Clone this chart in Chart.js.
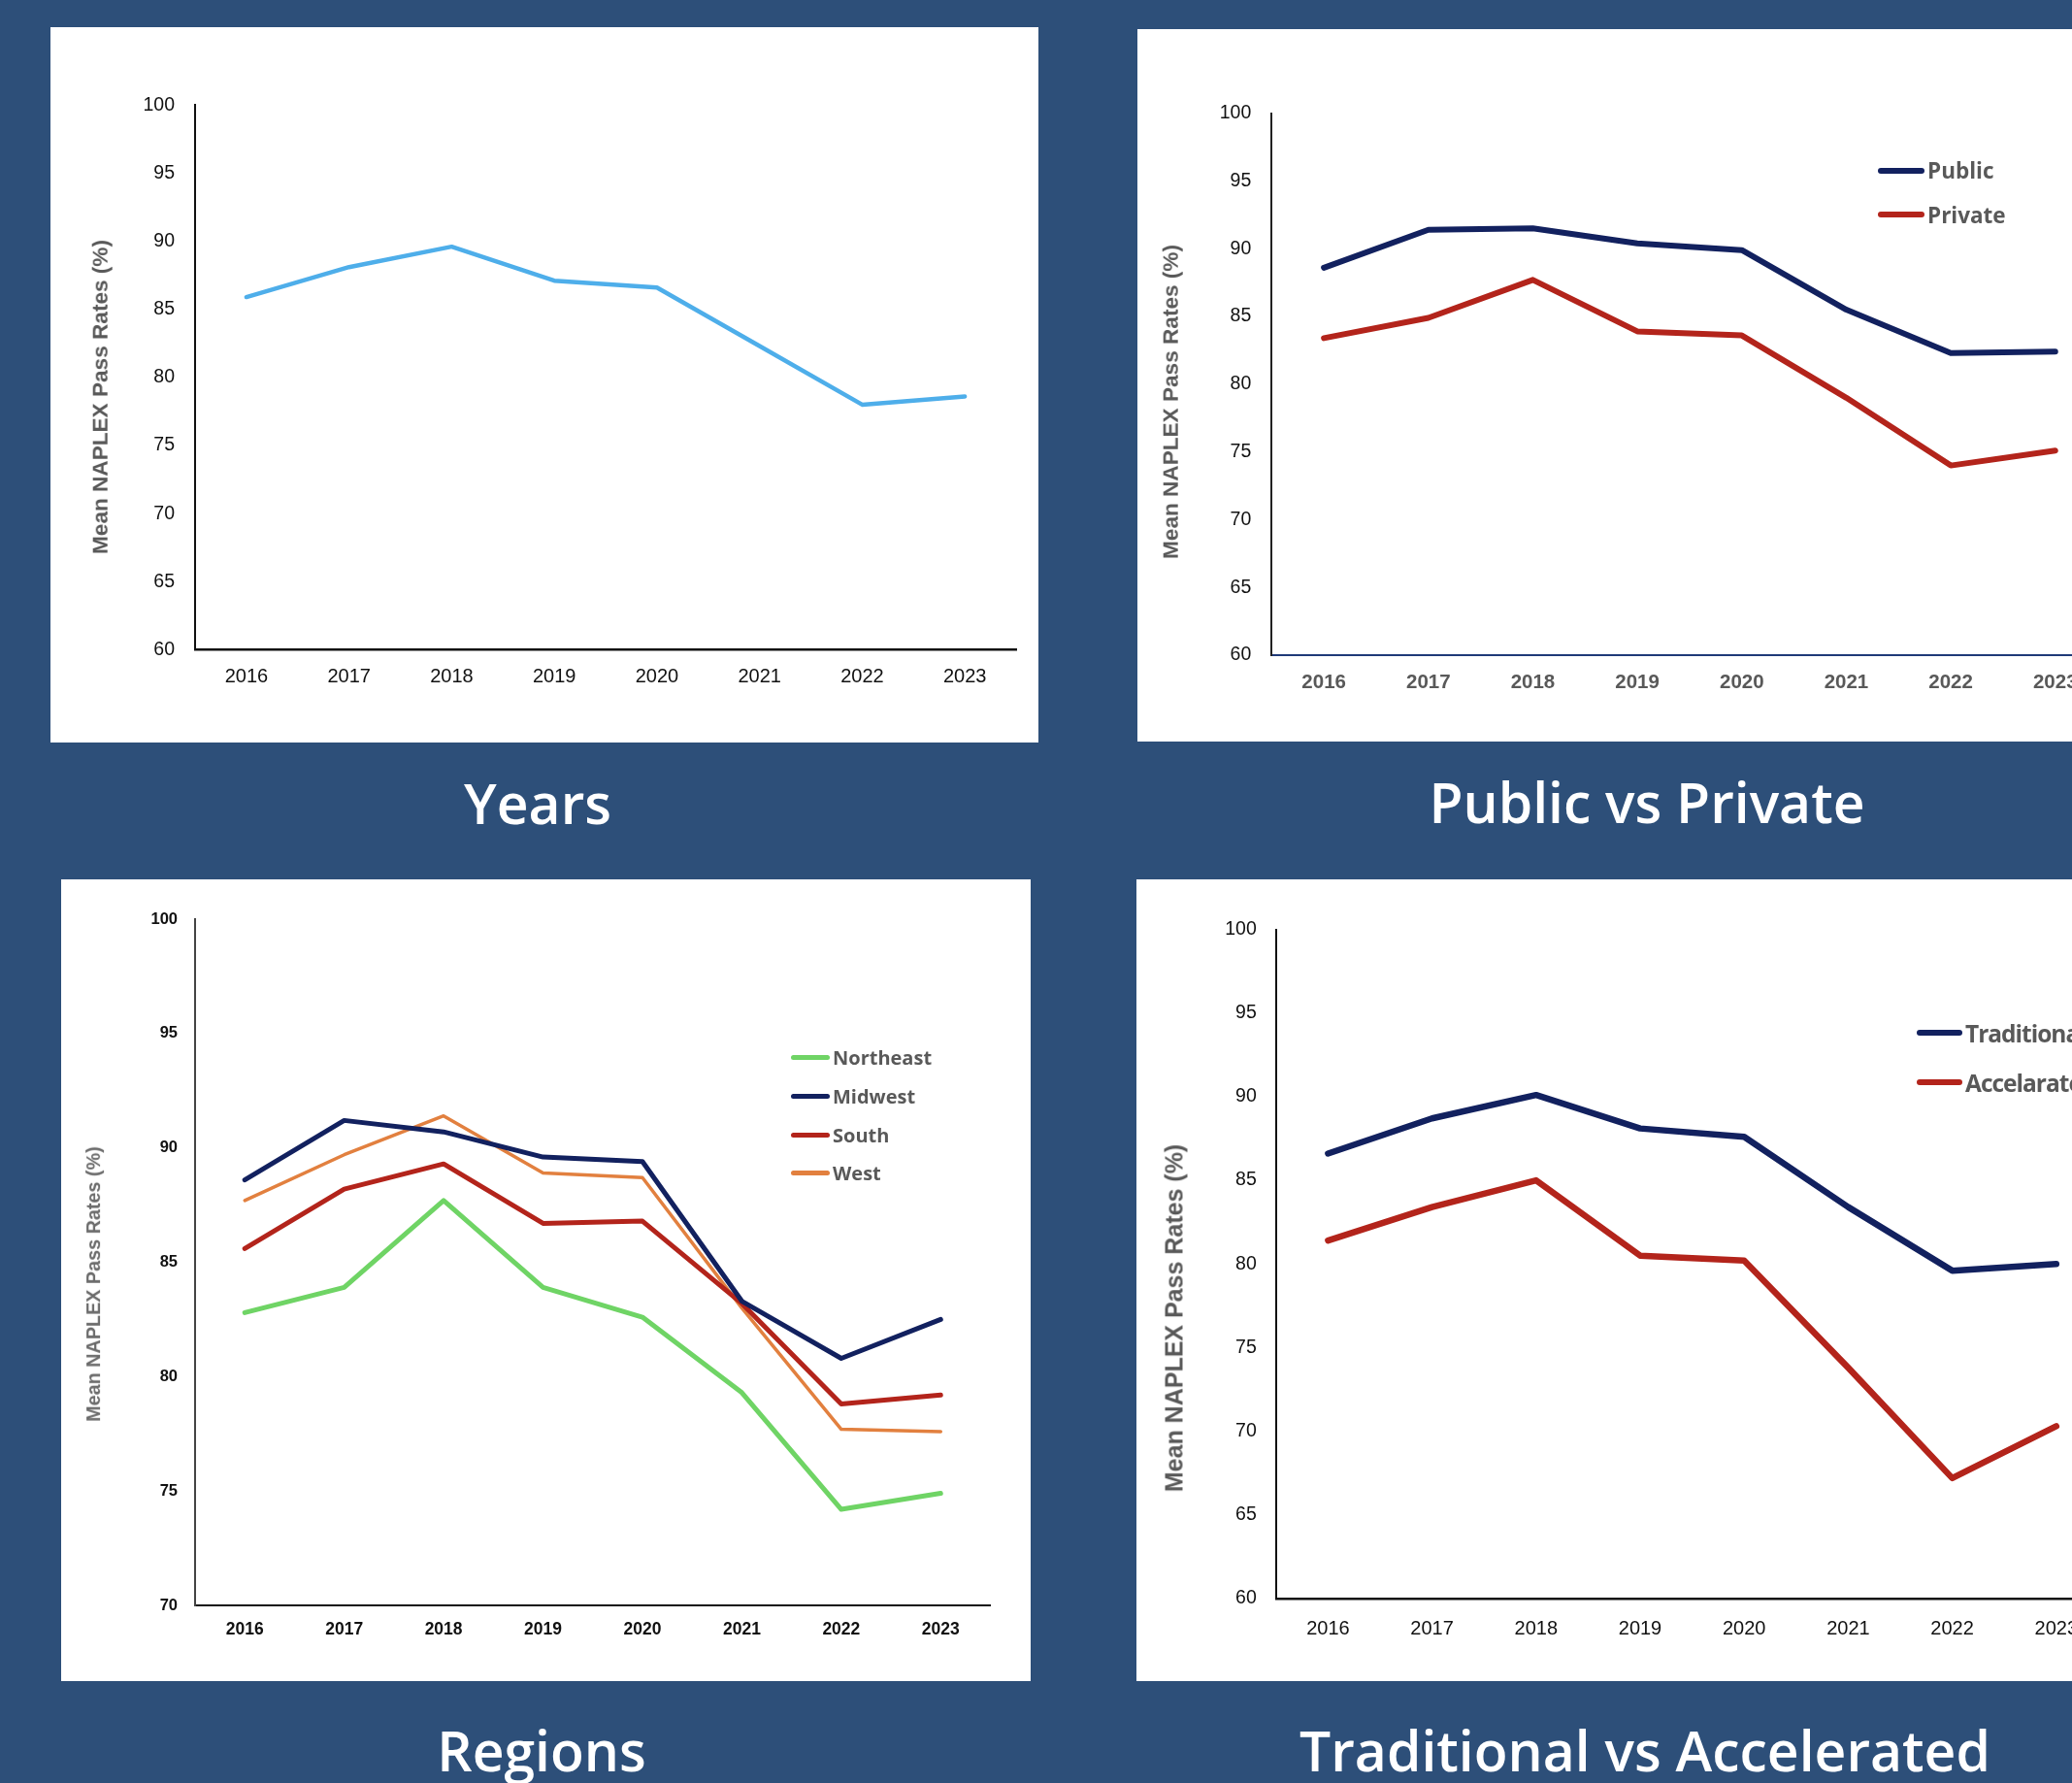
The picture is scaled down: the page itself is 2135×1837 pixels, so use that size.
<!DOCTYPE html>
<html>
<head>
<meta charset="utf-8">
<script src="https://cdn.jsdelivr.net/npm/chart.js@4.4.1/dist/chart.umd.min.js"></script>
<style>
html,body{margin:0;padding:0;}
body{width:2135px;height:1837px;overflow:hidden;background:#2d4f79;position:relative;font-family:'Liberation Sans',Arial,sans-serif;}
.panel{position:absolute;background:#fff;overflow:hidden;}
.panel canvas{position:absolute;left:0;top:0;}
.ytitle{position:absolute;white-space:nowrap;font-weight:bold;transform:translate(-50%,-50%) rotate(-90deg);font-family:'Liberation Sans',Arial,sans-serif;}
.ptitle{position:absolute;color:#fff;font-family:'Open Sans',sans-serif;font-weight:600;white-space:nowrap;transform:translateX(-50%);font-size:57px;line-height:57px;}
.lrow{position:absolute;display:flex;align-items:center;white-space:nowrap;font-family:'Open Sans',sans-serif;font-weight:700;color:#595959;}
.lsw{display:inline-block;border-radius:4px;margin-right:3px;}
</style>
</head>
<body>
<script>
// ---------- DATA ----------
const years = ['2016', '2017', '2018', '2019', '2020', '2021', '2022', '2023'];
const overallRates = [85.9, 88.1, 89.6, 87.1, 86.6, 82.3, 78.0, 78.6];
const publicRates = [88.6, 91.4, 91.5, 90.4, 89.9, 85.5, 82.3, 82.4];
const privateRates = [83.4, 84.9, 87.7, 83.9, 83.6, 79.0, 74.0, 75.1];
const northeastRates = [82.8, 83.9, 87.7, 83.9, 82.6, 79.3, 74.2, 74.9];
const midwestRates = [88.6, 91.2, 90.7, 89.6, 89.4, 83.3, 80.8, 82.5];
const southRates = [85.6, 88.2, 89.3, 86.7, 86.8, 83.2, 78.8, 79.2];
const westRates = [87.7, 89.7, 91.4, 88.9, 88.7, 83.0, 77.7, 77.6];
const traditionalRates = [86.6, 88.7, 90.1, 88.1, 87.6, 83.4, 79.6, 80.0];
const acceleratedRates = [81.4, 83.4, 85.0, 80.5, 80.2, 73.8, 67.2, 70.3];
const panelTitles = ['Years', 'Public vs Private', 'Regions', 'Traditional vs Accelerated'];
const yAxisTitle = 'Mean NAPLEX Pass Rates (%)';
const yRangeFull = [60, 100];
const yRangeRegions = [70, 100];
const yTickStep = 5;

// ---------- STYLES / LAYOUT ----------
const NAVY = '#12215f', RED = '#b3241b', BLUE = '#4eaeea', GREEN = '#6fd465', ORANGE = '#e2803f';
const FONT = "'Liberation Sans', Arial, sans-serif";

const specs = [
  {
    box: [52, 28, 1018, 737], cw: 1018,
    area: {l: 149, t: 80.2, r: 995, b: 641.5},
    range: yRangeFull,
    series: [{label: 'Overall', data: overallRates, color: BLUE, width: 4.5}],
    yTick: {size: 19.5, weight: 'normal', color: '#111', pad: 21},
    xTick: {size: 20, weight: 'normal', color: '#111', pad: 16},
    yBorder: {color: '#111', width: 2}, xBorder: {color: '#111', width: 2.5},
    yTitle: {x: 104, y: 409, size: 22.6, color: '#595959'},
    legend: null,
    title: {x: 554, base: 850}
  },
  {
    box: [1172, 30, 1000, 734], cw: 1030,
    area: {l: 138.3, t: 86.7, r: 999.6, b: 645},
    range: yRangeFull,
    series: [
      {label: 'Public', data: publicRates, color: NAVY, width: 6},
      {label: 'Private', data: privateRates, color: RED, width: 6}
    ],
    yTick: {size: 19.5, weight: 'normal', color: '#111', pad: 21},
    xTick: {size: 20.5, weight: 'bold', color: '#595959', pad: 16},
    yBorder: {color: '#222', width: 2}, xBorder: {color: '#1f3a78', width: 2},
    yTitle: {x: 1207, y: 414, size: 22.6, color: '#595959'},
    legend: {x: 1935, lineW: 48, thick: 6, rows: [175.5, 221], size: 22.5, spacing: 0},
    title: {x: 1697, base: 849}
  },
  {
    box: [63, 906, 999, 826], cw: 999,
    area: {l: 138, t: 41, r: 957.5, b: 748},
    range: yRangeRegions,
    series: [
      {label: 'Northeast', data: northeastRates, color: GREEN, width: 5},
      {label: 'Midwest', data: midwestRates, color: NAVY, width: 5},
      {label: 'South', data: southRates, color: RED, width: 5},
      {label: 'West', data: westRates, color: ORANGE, width: 3.5}
    ],
    yTick: {size: 16.5, weight: 'bold', color: '#111', pad: 18},
    xTick: {size: 17.5, weight: 'bold', color: '#111', pad: 15},
    yBorder: {color: '#444', width: 2}, xBorder: {color: '#111', width: 2},
    yTitle: {x: 97, y: 1323, size: 19.8, color: '#6b6b6b'},
    legend: {x: 815, lineW: 40, thick: 5, rows: [1089, 1129, 1169, 1208.4], size: 20, spacing: 0},
    title: {x: 558, base: 1826}
  },
  {
    box: [1171, 906, 1000, 826], cw: 1040,
    area: {l: 143.8, t: 51.5, r: 1001.4, b: 741},
    range: yRangeFull,
    series: [
      {label: 'Traditional', data: traditionalRates, color: NAVY, width: 6.5},
      {label: 'Accelarated', data: acceleratedRates, color: RED, width: 6.5}
    ],
    yTick: {size: 19.5, weight: 'normal', color: '#111', pad: 20},
    xTick: {size: 20, weight: 'normal', color: '#111', pad: 19},
    yBorder: {color: '#111', width: 2}, xBorder: {color: '#111', width: 2.5},
    yTitle: {x: 1210, y: 1358, size: 25, color: '#595959'},
    legend: {x: 1975, lineW: 47, thick: 6.5, rows: [1064, 1115], size: 24.5, spacing: -1},
    title: {x: 1695, base: 1826}
  }
];

function makePanel(spec, idx) {
  const [L, T, W, H] = spec.box;
  const panel = document.createElement('div');
  panel.className = 'panel';
  Object.assign(panel.style, {left: L + 'px', top: T + 'px', width: W + 'px', height: H + 'px'});
  document.body.appendChild(panel);
  const cv = document.createElement('canvas');
  cv.width = spec.cw; cv.height = H;
  cv.style.width = spec.cw + 'px'; cv.style.height = H + 'px';
  panel.appendChild(cv);

  const chart = new Chart(cv, {
    type: 'line',
    data: {
      labels: years,
      datasets: spec.series.map(s => ({
        label: s.label, data: s.data, borderColor: s.color, backgroundColor: s.color,
        borderWidth: s.width, pointRadius: 0, pointHoverRadius: 0, tension: 0, fill: false,
        borderJoinStyle: 'round', borderCapStyle: 'round'
      }))
    },
    options: {
      responsive: false, animation: false, devicePixelRatio: 1,
      events: [],
      layout: {padding: {left: 0, top: spec.area.t, right: spec.cw - spec.area.r, bottom: 0}},
      plugins: {legend: {display: false}, tooltip: {enabled: false}, title: {display: false}},
      scales: {
        x: {
          type: 'category', offset: true,
          grid: {display: false, drawTicks: false},
          border: {display: true, color: spec.xBorder.color, width: spec.xBorder.width},
          ticks: {color: spec.xTick.color, padding: spec.xTick.pad, maxRotation: 0, autoSkip: false,
                  font: {family: FONT, size: spec.xTick.size, weight: spec.xTick.weight}},
          afterFit: s => { s.height = H - spec.area.b; }
        },
        y: {
          min: spec.range[0], max: spec.range[1],
          grid: {display: false, drawTicks: false},
          border: {display: true, color: spec.yBorder.color, width: spec.yBorder.width},
          ticks: {stepSize: yTickStep, color: spec.yTick.color, padding: spec.yTick.pad,
                  font: {family: FONT, size: spec.yTick.size, weight: spec.yTick.weight}},
          afterFit: s => { s.width = spec.area.l; }
        }
      }
    }
  });

  // y-axis title
  const yt = document.createElement('div');
  yt.className = 'ytitle';
  yt.textContent = yAxisTitle;
  Object.assign(yt.style, {left: spec.yTitle.x + 'px', top: spec.yTitle.y + 'px',
    fontSize: spec.yTitle.size + 'px', color: spec.yTitle.color, lineHeight: '1'});
  document.body.appendChild(yt);

  // HTML legend built from the chart's datasets
  if (spec.legend) {
    chart.data.datasets.forEach((ds, i) => {
      const lg = spec.legend;
      const row = document.createElement('div');
      row.className = 'lrow';
      const h = 40;
      Object.assign(row.style, {left: lg.x + 'px', top: (lg.rows[i] - h / 2) + 'px', height: h + 'px',
        fontSize: lg.size + 'px', letterSpacing: lg.spacing + 'px'});
      const sw = document.createElement('span');
      sw.className = 'lsw';
      Object.assign(sw.style, {width: lg.lineW + 'px', height: lg.thick + 'px', background: ds.borderColor});
      const tx = document.createElement('span');
      tx.textContent = ds.label;
      row.appendChild(sw); row.appendChild(tx);
      document.body.appendChild(row);
    });
  }

  // panel caption
  const pt = document.createElement('div');
  pt.className = 'ptitle';
  pt.textContent = panelTitles[idx];
  Object.assign(pt.style, {left: spec.title.x + 'px', top: (spec.title.base - 50.6) + 'px'});
  document.body.appendChild(pt);
}

specs.forEach(makePanel);
</script>
</body>
</html>
